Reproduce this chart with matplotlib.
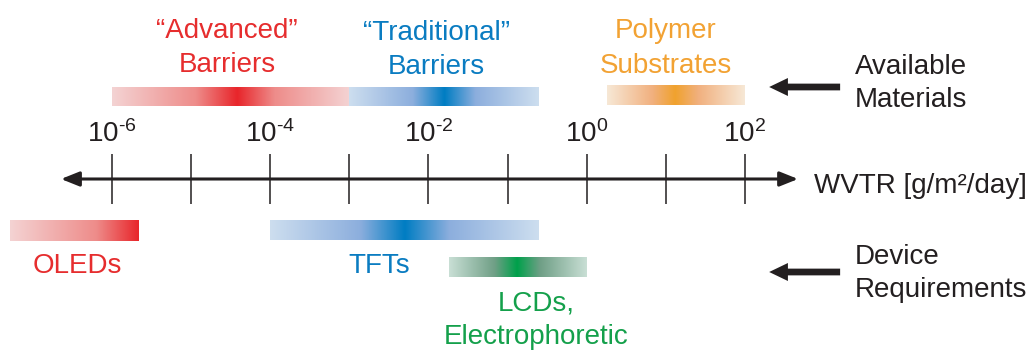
import numpy as np
import matplotlib
matplotlib.use("Agg")
import matplotlib.pyplot as plt
from matplotlib.colors import LinearSegmentedColormap

# ---- data: log10 of WVTR in g/m^2/day ----
tick_exponents = [-6, -5, -4, -3, -2, -1, 0, 1, 2]
labeled_exponents = [-6, -4, -2, 0, 2]

# available materials: range and the most typical value
material_names = ["\u201cAdvanced\u201d\nBarriers",
                  "\u201cTraditional\u201d\nBarriers",
                  "Polymer\nSubstrates"]
material_low = [-6.0, -3.0, 0.26]
material_high = [-3.0, -0.61, 2.0]
material_peak = [-4.42, -1.80, 1.12]

# device requirements
device_names = ["OLEDs", "TFTs", "LCDs,\nElectrophoretic"]
device_low = [-7.29, -4.0, -1.74]
device_high = [-5.67, -0.61, 0.0]
device_peak = [-5.67, -2.30, -0.88]

# ---- styling ----
INK = "#231F20"
RED = ("#E8262B", "#EE8C8A", "#F4D3D3")
BLUE = ("#007DC3", "#8CAEDD", "#CDDEEF")
ORANGE = ("#F0A22E", "#F1B07E", "#F7E8D6")
GREEN = ("#00A14B", "#6F9F86", "#C9DFD5")
TEXT_RED = "#E62D2E"
TEXT_BLUE = "#0A7CC1"
TEXT_ORANGE = "#F2A233"
TEXT_GREEN = "#14A04B"

plt.rcParams["font.family"] = ["Liberation Sans", "DejaVu Sans"]
plt.rcParams["mathtext.fontset"] = "custom"
plt.rcParams["mathtext.rm"] = "Liberation Sans"
plt.rcParams["mathtext.it"] = "Liberation Sans"
plt.rcParams["mathtext.bf"] = "Liberation Sans:bold"
FS = 20

fig = plt.figure(figsize=(10.31, 3.5), dpi=100)
ax = fig.add_axes([0, 0, 1, 1])
ax.set_xlim(-7.416, 5.618)
ax.set_ylim(350, 0)
ax.axis("off")


def gradient_bar(lo, hi, peak, top, bottom, colors, n=600):
    cmap = LinearSegmentedColormap.from_list(
        "g", [(0.0, colors[0]), (0.33, colors[1]), (1.0, colors[2])])
    xs = np.linspace(lo, hi, n)
    t = np.zeros(n)
    left = xs < peak
    if peak > lo:
        t[left] = (peak - xs[left]) / (peak - lo)
    if hi > peak:
        t[~left] = (xs[~left] - peak) / (hi - peak)
    rgba = cmap(np.clip(t, 0, 1))[None, :, :]
    ax.imshow(rgba, extent=(lo, hi, bottom, top), aspect="auto",
              interpolation="bilinear", zorder=2)


def lines_text(x, baselines, lines, color, ha="center"):
    for y, s in zip(baselines, lines):
        ax.text(x, y, s, ha=ha, va="baseline", fontsize=FS, color=color)


# available-material bars
mat_colors = [RED, BLUE, ORANGE]
mat_rows = [(87, 106), (87, 106), (85, 105)]
for lo, hi, pk, (t, b), c in zip(material_low, material_high, material_peak,
                                  mat_rows, mat_colors):
    gradient_bar(lo, hi, pk, t, b, c)

mat_label_x = [-4.546, -1.897, 1.005]
mat_label_base = [(38, 72), (40, 74), (38, 73)]
mat_text_colors = [TEXT_RED, TEXT_BLUE, TEXT_ORANGE]
for name, x, bl, col in zip(material_names, mat_label_x, mat_label_base,
                            mat_text_colors):
    lines_text(x, bl, name.split("\n"), col)

# device-requirement bars
dev_colors = [RED, BLUE, GREEN]
dev_rows = [(220, 241), (220, 240), (257, 277)]
for lo, hi, pk, (t, b), c in zip(device_low, device_high, device_peak,
                                  dev_rows, dev_colors):
    gradient_bar(lo, hi, pk, t, b, c)

dev_label_x = [-6.443, -2.625, -0.64]
dev_label_base = [(273,), (273,), (311, 344)]
dev_text_colors = [TEXT_RED, TEXT_BLUE, TEXT_GREEN]
for name, x, bl, col in zip(device_names, dev_label_x, dev_label_base,
                            dev_text_colors):
    lines_text(x, bl, name.split("\n"), col)

# WVTR axis with arrows at both ends
AXIS_Y = 179
ax.annotate("", xy=(-6.645, AXIS_Y), xytext=(2.673, AXIS_Y),
            arrowprops=dict(arrowstyle="<|-|>,head_length=0.55,head_width=0.22",
                            mutation_scale=20, lw=2.2, color=INK,
                            shrinkA=0, shrinkB=0), zorder=3)
ax.vlines(tick_exponents, AXIS_Y - 25, AXIS_Y + 25, colors=INK, lw=1.1, zorder=3)
for e in labeled_exponents:
    exp = str(e).replace("-", "\u2010")
    ax.text(e, 142, r"$10^{%s}$" % exp, ha="center", va="baseline",
            fontsize=FS, color=INK)
ax.text(2.876, 193, "WVTR [g/m\u00b2/day]", ha="left", va="baseline",
        fontsize=FS, color=INK)

# row captions with pointing arrows
arrow_style = "simple,head_length=0.5,head_width=0.48,tail_width=0.18"
for y in (87, 272):
    ax.annotate("", xy=(2.308, y), xytext=(3.205, y),
                arrowprops=dict(arrowstyle=arrow_style, mutation_scale=27,
                                fc=INK, ec="none", lw=0,
                                shrinkA=0, shrinkB=0))
lines_text(3.393, (74, 107), ["Available", "Materials"], INK, ha="left")
lines_text(3.393, (264, 297), ["Device", "Requirements"], INK, ha="left")

fig.savefig("out.png", dpi=100)
